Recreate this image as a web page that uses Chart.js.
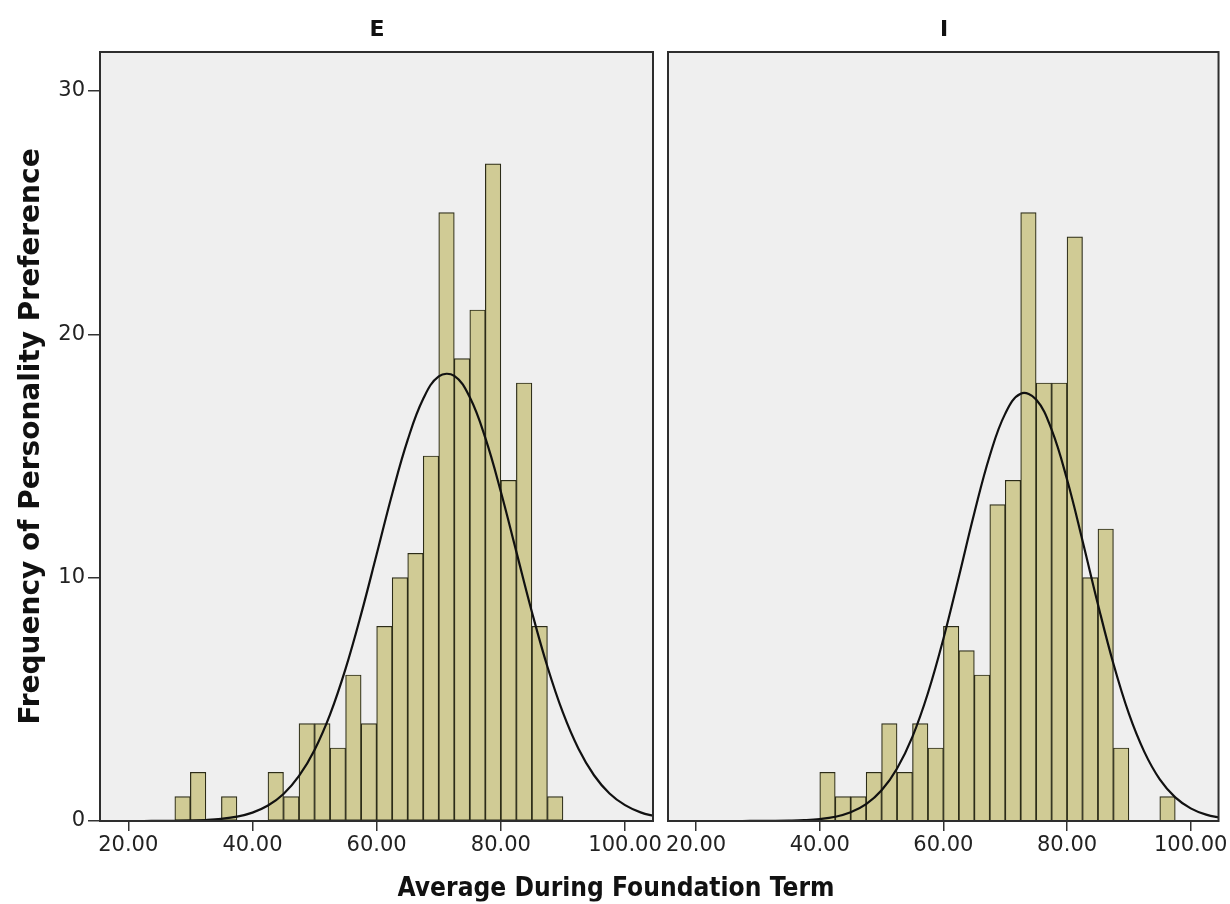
<!DOCTYPE html>
<html><head><meta charset="utf-8">
<script src="https://cdn.jsdelivr.net/npm/chart.js@4.4.0/dist/chart.umd.min.js"></script>
<style>
html,body{margin:0;padding:0;background:#fff;}
#wrap{position:relative;width:1230px;height:904px;overflow:hidden;background:#fff;}
canvas{position:absolute;top:0;}
.t{position:absolute;font-family:'DejaVu Sans';font-weight:bold;color:#111;white-space:nowrap;transform:translate(-50%,-50%);}
</style></head><body>
<div id="wrap">
<canvas id="cE" width="680" height="904" style="left:0px;width:680px;height:904px"></canvas>
<canvas id="cI" width="570" height="904" style="left:660px;width:570px;height:904px"></canvas>
<div class="t" style="left:377px;top:28px;font-size:22px">E</div>
<div class="t" style="left:944px;top:28px;font-size:22px">I</div>
<div class="t" style="left:616px;top:886px;font-size:27px;transform:translate(-50%,-50%) scaleX(0.87)">Average During Foundation Term</div>
</div>
<script>
// ---- data ----
const binStarts = [27.5,30,32.5,35,37.5,40,42.5,45,47.5,50,52.5,55,57.5,60,62.5,65,67.5,70,72.5,75,77.5,80,82.5,85,87.5,90,92.5,95];
const binWidth = 2.5;
const countsE = [1,2,0,1,0,0,2,1,4,4,3,6,4,8,10,11,15,25,19,21,27,14,18,8,1,0,0,0];
const countsI = [0,0,0,0,0,2,1,1,2,4,2,4,3,8,7,6,13,14,25,18,18,24,10,12,3,0,0,1];
const curveX = [15,17.5,20,22.5,25,27.5,30,32.5,35,37.5,40,42.5,45,47.5,50,52.5,55,57.5,60,62.5,65,67.5,70,72.5,75,77.5,80,82.5,85,87.5,90,92.5,95,97.5,100,102.5,105];
const curveE = [0,0,0.0004,0.001,0.003,0.008,0.018,0.041,0.088,0.178,0.345,0.635,1.11,1.85,2.92,4.38,6.26,8.50,10.96,13.44,15.66,17.35,18.27,18.29,17.41,15.74,13.53,11.06,8.59,6.34,4.45,2.97,1.88,1.13,0.65,0.354,0.18];
const curveI = [0,0,0,0,0.0002,0.0006,0.0019,0.005,0.014,0.034,0.079,0.173,0.357,0.69,1.26,2.16,3.47,5.26,7.49,10.04,12.66,15.01,16.74,17.56,17.32,16.08,14.03,11.52,8.90,6.46,4.41,2.84,1.71,0.97,0.52,0.26,0.12];
const xTickValues = [20,40,60,80,100];
const xTickLabels = ['20.00','40.00','60.00','80.00','100.00'];
const yTickValues = [0,10,20,30];
const yTickLabels = ['0','10','20','30'];
const yTitle = 'Frequency of Personality Preference';
const xMin = 15.45, xMax = 104.5, yMax = 31.6;

Chart.defaults.font.family = 'DejaVu Sans';
Chart.defaults.color = '#222';

const framePlugin = {
  id: 'frame',
  beforeDraw(chart) {
    const a = chart.chartArea, ctx = chart.ctx;
    ctx.save();
    ctx.fillStyle = '#efefef';
    ctx.fillRect(a.left, a.top, a.right - a.left, a.bottom - a.top);
    ctx.restore();
  },
  afterDraw(chart) {
    const a = chart.chartArea, ctx = chart.ctx;
    ctx.save();
    ctx.strokeStyle = '#2e2e2e';
    ctx.lineWidth = 2;
    ctx.strokeRect(a.left, a.top, a.right - a.left, a.bottom - a.top);
    ctx.restore();
  }
};

function makeChart(id, counts, curve, showY, pad) {
  const bars = [];
  counts.forEach((c, i) => { if (c > 0) bars.push({x: binStarts[i] + binWidth / 2, y: c}); });
  const line = curveX.map((x, i) => ({x: x, y: curve[i]}));
  return new Chart(document.getElementById(id), {
    type: 'bar',
    data: {
      datasets: [
        { type: 'line', data: line, borderColor: '#111', borderWidth: 2.2, pointRadius: 0, tension: 0.4, fill: false, order: 0 },
        { type: 'bar', data: bars, backgroundColor: '#d0cb95', borderColor: '#2c2c18', borderWidth: 1.2,
          borderSkipped: false, barPercentage: 1, categoryPercentage: 1, order: 1 }
      ]
    },
    options: {
      responsive: false, animation: false, devicePixelRatio: 1,
      layout: { padding: pad },
      plugins: { legend: { display: false }, tooltip: { enabled: false }, title: { display: false } },
      scales: {
        x: {
          type: 'linear', min: xMin, max: xMax, offset: false,
          afterBuildTicks: ax => { ax.ticks = xTickValues.map(v => ({value: v})); },
          afterFit: ax => { ax.height = 60; },
          ticks: { callback: (v) => xTickLabels[xTickValues.indexOf(v)], font: { size: 21 }, color: '#222', padding: 2, maxRotation: 0, autoSkip: false },
          grid: { offset: false, drawOnChartArea: false, drawTicks: true, tickLength: 10, color: '#333', lineWidth: 1.5 },
          border: { display: false }
        },
        y: {
          display: showY, min: 0, max: yMax,
          afterBuildTicks: ax => { ax.ticks = yTickValues.map(v => ({value: v})); },
          afterFit: ax => { ax.width = showY ? 100 : 0; },
          ticks: { callback: (v) => yTickLabels[yTickValues.indexOf(v)], font: { size: 21 }, color: '#222', padding: 3 },
          grid: { offset: false, drawOnChartArea: false, drawTicks: true, tickLength: 12, color: '#333', lineWidth: 1.5 },
          border: { display: false },
          title: { display: showY, text: yTitle, font: { size: 28, weight: 'bold' }, color: '#111', padding: { top: 15, bottom: 0 } }
        }
      }
    },
    plugins: [framePlugin]
  });
}

makeChart('cE', countsE, curveE, true, { left: 0, right: 27, top: 52, bottom: 23 });
makeChart('cI', countsI, curveI, false, { left: 8, right: 11, top: 52, bottom: 23 });
</script>
</body></html>
